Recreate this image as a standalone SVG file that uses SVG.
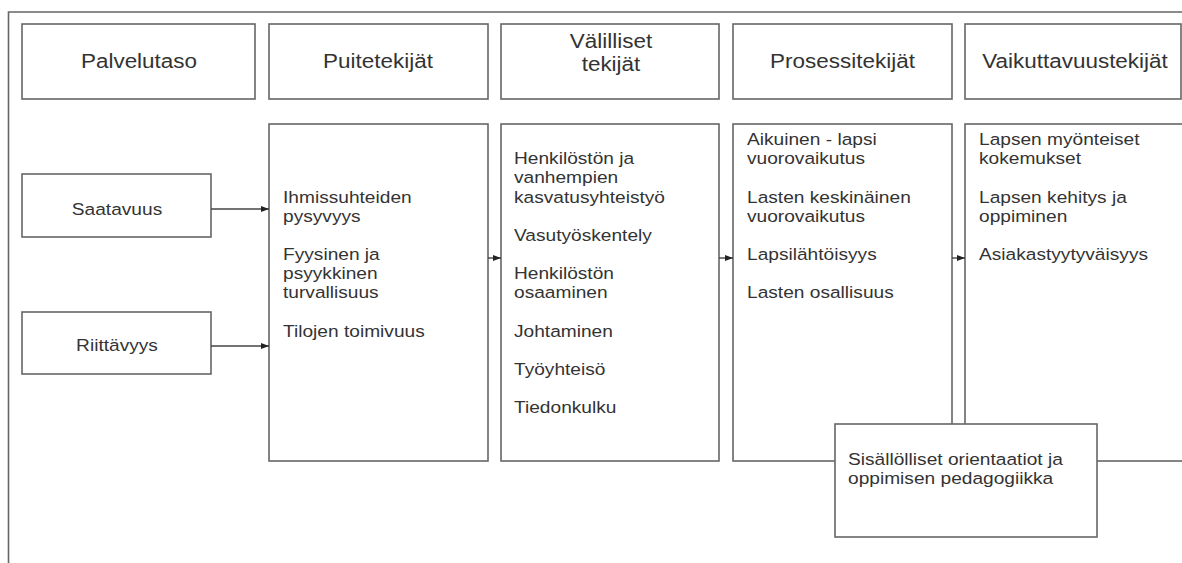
<svg xmlns="http://www.w3.org/2000/svg" width="1182" height="563" viewBox="0 0 1182 563">
<style>
.box{fill:#fff;stroke:#666;stroke-width:1.6}
.h{font-family:"Liberation Sans",Arial,sans-serif;font-size:21px;fill:#333;text-anchor:middle}
.b{font-family:"Liberation Sans",Arial,sans-serif;font-size:16.5px;fill:#333}
.bc{font-family:"Liberation Sans",Arial,sans-serif;font-size:16.5px;fill:#333;text-anchor:middle}
.conn{stroke:#444;stroke-width:1.4;fill:none}
</style>
<defs>
<marker id="arr" markerUnits="userSpaceOnUse" markerWidth="9" markerHeight="7" refX="8" refY="3.5" orient="auto">
<path d="M0,0.5 L8,3.5 L0,6.5 z" fill="#222"/>
</marker>
</defs>
<rect width="1182" height="563" fill="#fff"/>
<path d="M8.5,563 V12 H1182" fill="none" stroke="#666" stroke-width="1.6"/>

<g id="h-palvelutaso"><rect class="box" x="22" y="24" width="233" height="75"/><g transform="translate(139 0) scale(1.07 1)"><text class="h" x="0" y="68">Palvelutaso</text></g></g>
<g id="h-puitetekijat"><rect class="box" x="269" y="24" width="219" height="75"/><g transform="translate(378 0) scale(1.07 1)"><text class="h" x="0" y="68">Puitetekijät</text></g></g>
<g id="h-valilliset"><rect class="box" x="501" y="24" width="218" height="75"/><g transform="translate(611 0) scale(1.07 1)"><text class="h"><tspan x="0" y="48">Välilliset</tspan><tspan x="0" y="71">tekijät</tspan></text></g></g>
<g id="h-prosessitekijat"><rect class="box" x="733" y="24" width="219" height="75"/><g transform="translate(842.5 0) scale(1.07 1)"><text class="h" x="0" y="68">Prosessitekijät</text></g></g>
<g id="h-vaikuttavuustekijat"><rect class="box" x="965" y="24" width="216" height="75"/><g transform="translate(1075 0) scale(1.07 1)"><text class="h" x="0" y="68">Vaikuttavuustekijät</text></g></g>

<g id="saatavuus"><rect class="box" x="22" y="174" width="189" height="63"/><g transform="translate(117 0) scale(1.16 1)"><text class="bc" x="0" y="215">Saatavuus</text></g></g>
<g id="riittavyys"><rect class="box" x="22" y="312" width="189" height="62"/><g transform="translate(117 0) scale(1.16 1)"><text class="bc" x="0" y="351">Riittävyys</text></g></g>

<g id="puite-body"><rect class="box" x="269" y="124" width="219" height="337"/><g transform="translate(283 0) scale(1.16 1)"><text class="b"><tspan x="0" y="203">Ihmissuhteiden</tspan><tspan x="0" y="222">pysyvyys</tspan><tspan x="0" y="260">Fyysinen ja</tspan><tspan x="0" y="279">psyykkinen</tspan><tspan x="0" y="298">turvallisuus</tspan><tspan x="0" y="337">Tilojen toimivuus</tspan></text></g></g>

<g id="valilliset-body"><rect class="box" x="501" y="124" width="218" height="337"/><g transform="translate(514 0) scale(1.16 1)"><text class="b"><tspan x="0" y="164">Henkilöstön ja</tspan><tspan x="0" y="183">vanhempien</tspan><tspan x="0" y="203">kasvatusyhteistyö</tspan><tspan x="0" y="241">Vasutyöskentely</tspan><tspan x="0" y="279">Henkilöstön</tspan><tspan x="0" y="298">osaaminen</tspan><tspan x="0" y="337">Johtaminen</tspan><tspan x="0" y="375">Työyhteisö</tspan><tspan x="0" y="413">Tiedonkulku</tspan></text></g></g>

<g id="prosessi-body"><rect class="box" x="733" y="124" width="219" height="337"/><g transform="translate(747 0) scale(1.16 1)"><text class="b"><tspan x="0" y="145">Aikuinen - lapsi</tspan><tspan x="0" y="164">vuorovaikutus</tspan><tspan x="0" y="203">Lasten keskinäinen</tspan><tspan x="0" y="222">vuorovaikutus</tspan><tspan x="0" y="260">Lapsilähtöisyys</tspan><tspan x="0" y="298">Lasten osallisuus</tspan></text></g></g>

<g id="vaikuttavuus-body"><rect class="box" x="965" y="124" width="218" height="337"/><g transform="translate(979 0) scale(1.16 1)"><text class="b"><tspan x="0" y="145">Lapsen myönteiset</tspan><tspan x="0" y="164">kokemukset</tspan><tspan x="0" y="203">Lapsen kehitys ja</tspan><tspan x="0" y="222">oppiminen</tspan><tspan x="0" y="260">Asiakastyytyväisyys</tspan></text></g></g>

<g id="connectors">
<line class="conn" x1="211" y1="209" x2="269" y2="209" marker-end="url(#arr)"/>
<line class="conn" x1="211" y1="346" x2="269" y2="346" marker-end="url(#arr)"/>
<line class="conn" x1="488" y1="258" x2="501" y2="258" marker-end="url(#arr)"/>
<line class="conn" x1="719" y1="258" x2="733" y2="258" marker-end="url(#arr)"/>
<line class="conn" x1="952" y1="258" x2="965" y2="258" marker-end="url(#arr)"/>
</g>

<g id="sisallolliset"><rect class="box" x="835" y="424" width="262" height="113"/><g transform="translate(848 0) scale(1.16 1)"><text class="b"><tspan x="0" y="465">Sisällölliset orientaatiot ja</tspan><tspan x="0" y="484">oppimisen pedagogiikka</tspan></text></g></g>
</svg>
